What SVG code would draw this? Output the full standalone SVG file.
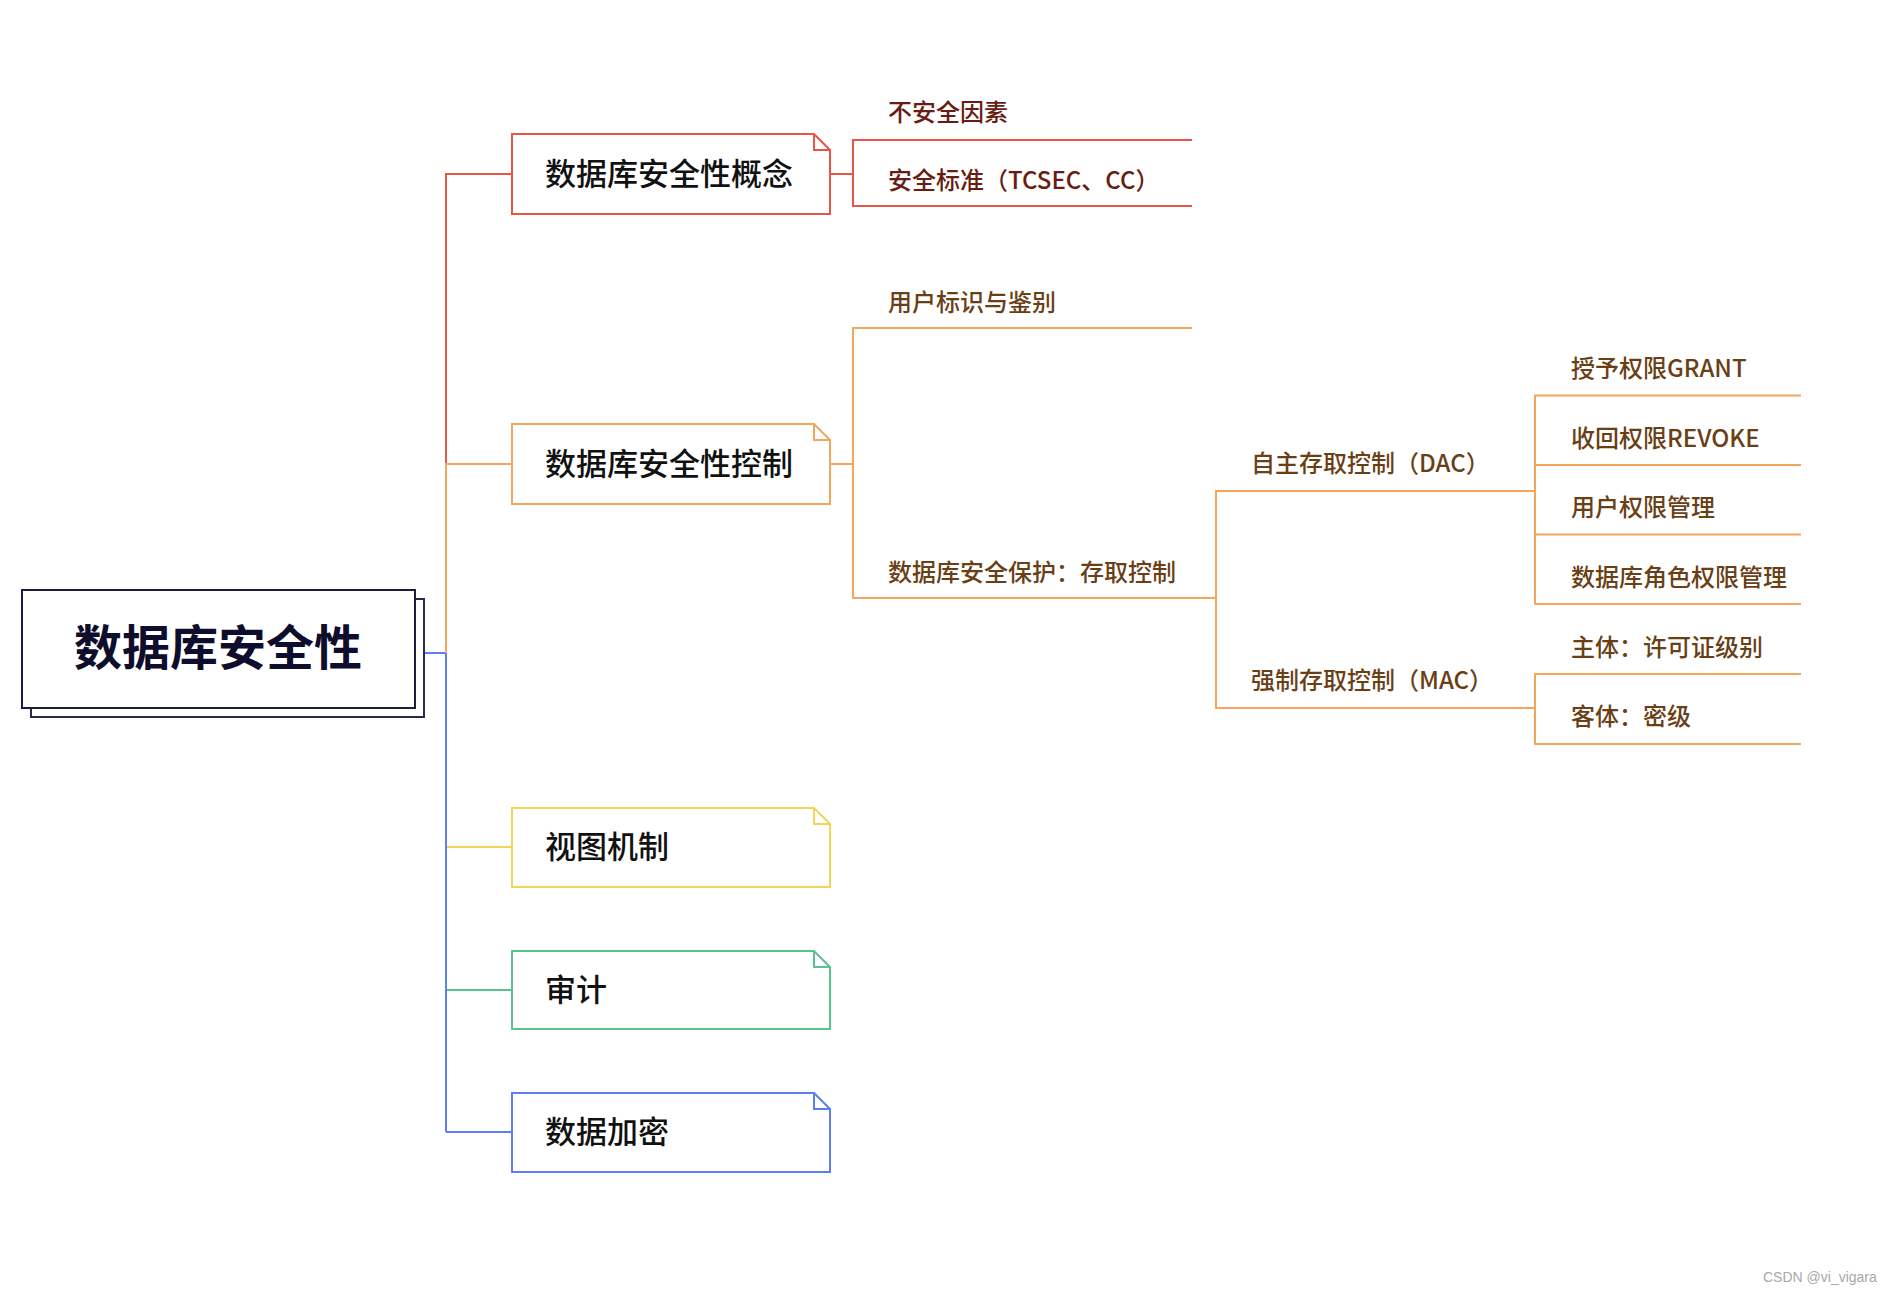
<svg xmlns="http://www.w3.org/2000/svg" width="1892" height="1294" viewBox="0 0 1892 1294">
<style>
text{font-family:"Noto Sans CJK SC","Noto Sans",sans-serif}
.root{font-size:48px;font-weight:bold;fill:#0e0e2c;text-anchor:middle}
.l1{font-size:31px;font-weight:500;fill:#111}
.lr{font-size:24px;font-weight:500;fill:#681c12}
.lo{font-size:24px;font-weight:500;fill:#6a3f16}
.box{fill:#fff;stroke-width:2}
.ln{fill:none;stroke-width:2}
.red{stroke:#ea5447}.org{stroke:#f2a65e}.yel{stroke:#f2d456}.grn{stroke:#5ec28e}.blu{stroke:#5b7ff2}
.wm{font-family:"Liberation Sans",Arial,sans-serif;font-size:14px;fill:#a8a8a8}
</style>
<rect width="1892" height="1294" fill="#fff"/>
<g id="connectors">
<path class="ln blu" d="M424 653H446V1132"/>
<path class="ln red" d="M446 464V174H512"/>
<path class="ln org" d="M446 653V464H512"/>
<path class="ln yel" d="M446 847H512"/>
<path class="ln grn" d="M446 990H512"/>
<path class="ln blu" d="M446 1132H512"/>
<path class="ln blu" d="M446 653V1132"/>
<path class="ln red" d="M830 174H853M1192 140H853V206H1192"/>
<path class="ln org" d="M830 464H853M1192 328H853V598H1216"/>
<path class="ln org" d="M1535 491H1216V708H1535"/>
<path class="ln org" d="M1801 395.5H1535V604H1801M1535 465H1801M1535 534.5H1801"/>
<path class="ln org" d="M1801 674H1535V744H1801"/>
</g>
<g id="root">
<rect x="31" y="599" width="393" height="118" fill="#fff" stroke="#2a2a4a" stroke-width="2"/>
<rect x="22" y="590" width="393" height="118" fill="#fff" stroke="#1c1c3c" stroke-width="2"/>
<text class="root" x="218" y="665">数据库安全性</text>
</g>
<g id="n-concept">
<path class="box red" d="M512 134H814L830 150V214H512Z"/><path class="ln red" d="M814 134V150H830"/>
<text class="l1" x="545" y="185">数据库安全性概念</text>
</g>
<g id="n-control">
<path class="box org" d="M512 424H814L830 440V504H512Z"/><path class="ln org" d="M814 424V440H830"/>
<text class="l1" x="545" y="475">数据库安全性控制</text>
</g>
<g id="n-view">
<path class="box yel" d="M512 808H814L830 824V887H512Z"/><path class="ln yel" d="M814 808V824H830"/>
<text class="l1" x="545" y="858">视图机制</text>
</g>
<g id="n-audit">
<path class="box grn" d="M512 951H814L830 967V1029H512Z"/><path class="ln grn" d="M814 951V967H830"/>
<text class="l1" x="545" y="1001">审计</text>
</g>
<g id="n-encrypt">
<path class="box blu" d="M512 1093H814L830 1109V1172H512Z"/><path class="ln blu" d="M814 1093V1109H830"/>
<text class="l1" x="545" y="1143">数据加密</text>
</g>
<g id="n-unsafe"><text class="lr" x="888" y="121">不安全因素</text></g>
<g id="n-standard"><text class="lr" x="888" y="189">安全标准（TCSEC、CC）</text></g>
<g id="n-auth"><text class="lo" x="888" y="311">用户标识与鉴别</text></g>
<g id="n-protect"><text class="lo" x="888" y="581">数据库安全保护：存取控制</text></g>
<g id="n-dac"><text class="lo" x="1251" y="472">自主存取控制（DAC）</text></g>
<g id="n-mac"><text class="lo" x="1251" y="689">强制存取控制（MAC）</text></g>
<g id="n-grant"><text class="lo" x="1571" y="377">授予权限GRANT</text></g>
<g id="n-revoke"><text class="lo" x="1571" y="447">收回权限REVOKE</text></g>
<g id="n-userperm"><text class="lo" x="1571" y="516">用户权限管理</text></g>
<g id="n-roleperm"><text class="lo" x="1571" y="586">数据库角色权限管理</text></g>
<g id="n-subject"><text class="lo" x="1571" y="656">主体：许可证级别</text></g>
<g id="n-object"><text class="lo" x="1571" y="725">客体：密级</text></g>
<text class="wm" x="1763" y="1282">CSDN @vi_vigara</text>
</svg>
